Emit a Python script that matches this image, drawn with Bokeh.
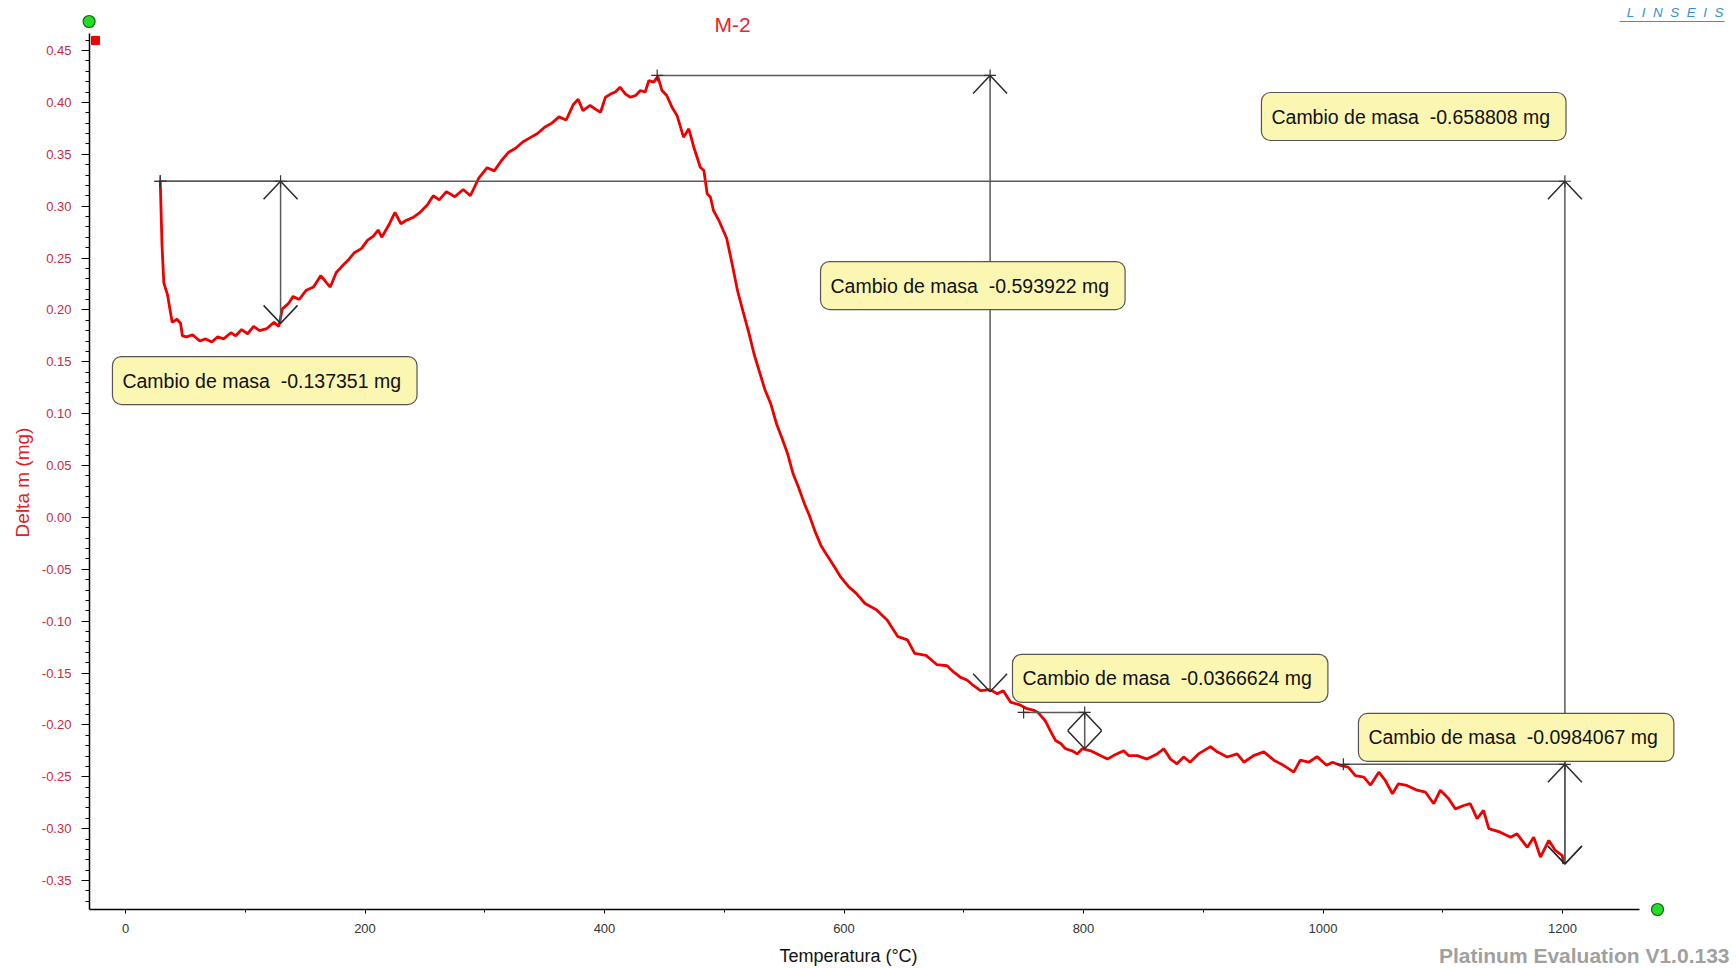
import math
from bokeh.plotting import figure
from bokeh.models import Label, FixedTicker, Range1d, NumeralTickFormatter
from bokeh.embed import file_html
from bokeh.resources import INLINE

# ---------------- data ----------------
temp = [29, 30.5, 32, 35, 37.5, 39, 43, 46, 47.5, 51, 56, 62, 67, 72, 77, 82, 88, 92, 97, 102,
        107, 112, 118, 124, 128, 131, 136, 140, 145, 151, 157, 163, 168, 171, 176, 180, 186, 191,
        197, 202, 207, 211, 214, 220, 225, 230, 234, 240, 246, 252, 257, 262, 268,
        275, 282, 288, 295, 302, 308, 314, 320, 326, 332, 338, 344, 350, 356, 362, 368, 374, 378,
        382, 388, 393,
        396.7, 400.8, 405, 409, 413, 417.5, 421.7, 426, 430, 434, 437, 441, 444.5, 448, 452, 456.5,
        460.7, 466, 470.4, 474.6, 480, 483, 485.7, 488.5, 491,
        496, 502, 507, 511, 516, 520.5, 525, 530, 534, 539, 543.7, 548, 553, 557.5, 562, 567, 571,
        576, 580.7, 585, 590, 597, 604, 610, 617.6, 627, 636, 645, 653, 659, 668.5, 677.7,
        686, 691.5, 697, 703, 708, 714, 722, 728, 733, 739, 747.4, 752, 758.5, 762, 768, 772, 776.6,
        781, 785, 790.5, 794.7, 799, 806, 814, 820, 825, 833.6, 837.6, 845, 853, 861.5, 867, 872.7,
        878, 883.7, 889, 896, 906, 911.6, 920, 928.3, 934, 942, 950.6, 959, 967, 975.6, 981, 988,
        995, 1003,
        1008, 1014.6, 1021, 1027, 1034, 1039.7, 1046.6, 1052, 1058, 1063, 1070, 1078.6, 1085.6,
        1092.5, 1098, 1105, 1110.6, 1117.6, 1123, 1128.7, 1134, 1138.5, 1148, 1156.6, 1162, 1170.6,
        1176, 1181.6, 1188.6, 1194, 1199.8, 1201]
delta_m = [0.325, 0.262, 0.226, 0.215, 0.198, 0.188, 0.191, 0.187, 0.175, 0.174, 0.176, 0.170,
           0.172, 0.169, 0.174, 0.172, 0.178, 0.175, 0.181, 0.177, 0.184, 0.180, 0.182, 0.188,
           0.184, 0.201, 0.206, 0.213, 0.210, 0.219, 0.222, 0.233, 0.226, 0.222, 0.236, 0.241,
           0.248, 0.255, 0.259, 0.267, 0.271, 0.277, 0.270, 0.282, 0.294, 0.283, 0.286, 0.289,
           0.294, 0.301, 0.310, 0.306, 0.314,
           0.309, 0.316, 0.310, 0.327, 0.337, 0.334, 0.344, 0.352, 0.356, 0.362, 0.366, 0.370,
           0.376, 0.380, 0.386, 0.383, 0.398, 0.403, 0.392, 0.397, 0.393,
           0.3905, 0.405, 0.408, 0.410, 0.4146, 0.408, 0.405, 0.4066, 0.4114, 0.410, 0.421, 0.4195,
           0.425, 0.4114, 0.4066, 0.395, 0.387, 0.3665, 0.3745, 0.3568, 0.3375, 0.3343, 0.312,
           0.3086, 0.2958,
           0.285, 0.269, 0.242, 0.219, 0.197, 0.178, 0.157, 0.138, 0.123, 0.109, 0.090, 0.077,
           0.061, 0.042, 0.029, 0.013, 0.002, -0.014, -0.027, -0.035, -0.044, -0.057, -0.067,
           -0.073, -0.083, -0.089, -0.099, -0.115, -0.118, -0.131, -0.133, -0.142,
           -0.143, -0.149, -0.154, -0.157, -0.162, -0.167, -0.166, -0.170, -0.167, -0.178, -0.181,
           -0.184, -0.186, -0.188, -0.196, -0.205, -0.215, -0.218, -0.223, -0.225, -0.228, -0.223,
           -0.225, -0.2296, -0.233, -0.2296, -0.225, -0.2296, -0.2296, -0.233, -0.228, -0.223,
           -0.233, -0.2375, -0.231, -0.236, -0.228, -0.221, -0.226, -0.231, -0.228, -0.236,
           -0.2296, -0.226, -0.234, -0.239, -0.2456, -0.234, -0.236, -0.2306, -0.239,
           -0.236, -0.239, -0.2408, -0.249, -0.2504, -0.258, -0.2456, -0.2536, -0.2664, -0.2568,
           -0.2584, -0.263, -0.2649, -0.276, -0.263, -0.2713, -0.281, -0.2777, -0.276, -0.2905,
           -0.2825, -0.300, -0.3034, -0.3083, -0.305, -0.318, -0.3083, -0.3275, -0.3114, -0.321,
           -0.326, -0.334]

ytick_values = [-0.35, -0.30, -0.25, -0.20, -0.15, -0.10, -0.05, 0.00, 0.05, 0.10, 0.15, 0.20,
                0.25, 0.30, 0.35, 0.40, 0.45]
xtick_values = [0, 200, 400, 600, 800, 1000, 1200]

# mass-change measurements
meas_text = ["Cambio de masa \u00a0-0.137351 mg", "Cambio de masa \u00a0-0.593922 mg",
             "Cambio de masa \u00a0-0.0366624 mg", "Cambio de masa \u00a0-0.658808 mg",
             "Cambio de masa \u00a0-0.0984067 mg"]
meas_t0 = [29, 444, 750, 29, 1017]
meas_t1 = [129.5, 722, 801, 1202, 1202]
meas_top = [0.324, 0.426, -0.188, 0.324, -0.238]
meas_bot = [0.187, -0.168, -0.223, -0.334, -0.334]
box_t = [-10.9, 580.4, 740.7, 948.6, 1029.6]
box_v = [0.155, 0.2466, -0.132, 0.4095, -0.189]

# axis extents (data units)
x_axis_from, x_axis_to = -30.1, 1264.3
y_axis_from, y_axis_to = -0.378, 0.4664

# ---------------- figure ----------------
W, H = 1736, 968
PX_X = 1.1975      # px per degC
PX_Y = 1037.5      # px per mg
X0 = 0 - 125 / PX_X
X1 = X0 + W / PX_X
Y1 = 0.45 + 50 / PX_Y
Y0 = Y1 - H / PX_Y


def dx(px):
    return X0 + px / PX_X


def dy(py):
    return Y1 - py / PX_Y


p = figure(width=W, height=H, output_backend="svg", toolbar_location=None,
           x_range=Range1d(X0, X1), y_range=Range1d(Y0, Y1),
           min_border_left=0, min_border_right=0, min_border_top=0, min_border_bottom=0)
p.outline_line_color = None
p.xgrid.visible = False
p.ygrid.visible = False
p.background_fill_color = "white"
p.border_fill_color = "white"

FONT = "Liberation Sans"

yax = p.yaxis[0]
yax.fixed_location = x_axis_from
yax.bounds = (y_axis_from, y_axis_to)
yax.ticker = FixedTicker(ticks=ytick_values,
                         minor_ticks=[round(-0.37 + 0.01 * i, 2) for i in range(84)])
yax.formatter = NumeralTickFormatter(format="0.00")
yax.major_label_text_color = "#c92a42"
yax.major_label_text_font = FONT
yax.major_label_text_font_size = "13px"
yax.major_tick_out = 8
yax.major_tick_in = 0
yax.minor_tick_out = 4
yax.minor_tick_in = 0
yax.major_label_standoff = 10
yax.axis_line_color = "black"
yax.axis_line_width = 1.5

xax = p.xaxis[0]
xax.fixed_location = y_axis_from
xax.bounds = (x_axis_from, x_axis_to)
xax.ticker = FixedTicker(ticks=xtick_values, minor_ticks=list(range(100, 1300, 200)))
xax.major_label_text_color = "#333333"
xax.major_label_text_font = FONT
xax.major_label_text_font_size = "13px"
xax.major_tick_out = 4
xax.major_tick_in = 0
xax.minor_tick_out = 3
xax.minor_tick_in = 0
xax.major_label_standoff = 10
xax.axis_line_color = "black"
xax.axis_line_width = 1.5

# curve
p.line(temp, delta_m, line_color="#ee0000", line_width=2.8)

# measurement lines
hx = 17 / PX_X
hy = 18 / PX_Y
lx, ly, ax_, ay_ = [], [], [], []
for t0, t1, vt, vb in zip(meas_t0, meas_t1, meas_top, meas_bot):
    lx.append([t0, t1]); ly.append([vt, vt])
    lx.append([t1, t1]); ly.append([vt, vb])
    ax_.append([t1 - hx, t1, t1 + hx]); ay_.append([vt - hy, vt, vt - hy])
    ax_.append([t1 - hx, t1, t1 + hx]); ay_.append([vb + hy, vb, vb + hy])
p.multi_line(lx, ly, line_color="#5a5a5a", line_width=1.5)
p.multi_line(ax_, ay_, line_color="#2a2a2a", line_width=1.5)
p.scatter(meas_t0 + meas_t1, meas_top + meas_top, marker="cross", size=12,
          line_color="#333333", line_width=1.2)

# boxes with shadow
PAD = dict(left=10, right=16, top=13, bottom=13)
for txt, bt, bv in zip(meas_text, box_t, box_v):
    p.add_layout(Label(x=bt, y=bv, text=txt, anchor="top_left", text_font=FONT,
                       text_font_size="19.5px", text_alpha=0.0, x_offset=3, y_offset=-3,
                       padding=PAD, border_radius=9,
                       background_fill_color="#777777", background_fill_alpha=0.55))
    p.add_layout(Label(x=bt, y=bv, text=txt, anchor="top_left", text_font=FONT,
                       text_font_size="19.5px", text_color="#111111",
                       padding=PAD, border_radius=9,
                       background_fill_color="#fbf7b2", border_line_color="#555555",
                       border_line_width=1.2))

# title, axis labels, decorations
p.add_layout(Label(x=dx(732), y=dy(24), text="M-2", text_align="center", text_baseline="middle",
                   text_font=FONT, text_font_size="21px", text_color="#e8262e"))
p.add_layout(Label(x=dx(848), y=dy(955), text="Temperatura (°C)", text_align="center",
                   text_baseline="middle", text_font=FONT, text_font_size="18px",
                   text_color="#111111"))
p.add_layout(Label(x=dx(22), y=dy(482), text="Delta m (mg)", text_align="center",
                   text_baseline="middle", angle=math.pi / 2, text_font=FONT,
                   text_font_size="19px", text_color="#dd2222"))
p.add_layout(Label(x=dx(1729), y=dy(955), text="Platinum Evaluation V1.0.133", text_align="right",
                   text_baseline="middle", text_font=FONT, text_font_size="21px",
                   text_font_style="bold", text_color="#a0a0a0"))
p.add_layout(Label(x=dx(1723), y=dy(12), text="L\u00a0\u00a0I\u00a0\u00a0N\u00a0\u00a0S\u00a0\u00a0E\u00a0\u00a0I\u00a0\u00a0S",
                   text_align="right", text_baseline="middle", text_font=FONT,
                   text_font_size="13.5px", text_font_style="italic", text_color="#3a8fd0"))
p.segment(x0=[dx(1619)], y0=[dy(21)], x1=[dx(1724)], y1=[dy(21)], line_color="#3a8fd0",
          line_width=1.2)

p.scatter([dx(88.6), dx(1657)], [dy(21), dy(909)], size=12, fill_color="#22dd22",
          line_color="#146614", line_width=1.2, level="overlay")
p.scatter([dx(95)], [dy(40)], marker="square", size=8, fill_color="#ee0000",
          line_color="#ee0000", level="overlay")

open("out.html", "w").write(file_html(p, INLINE))
